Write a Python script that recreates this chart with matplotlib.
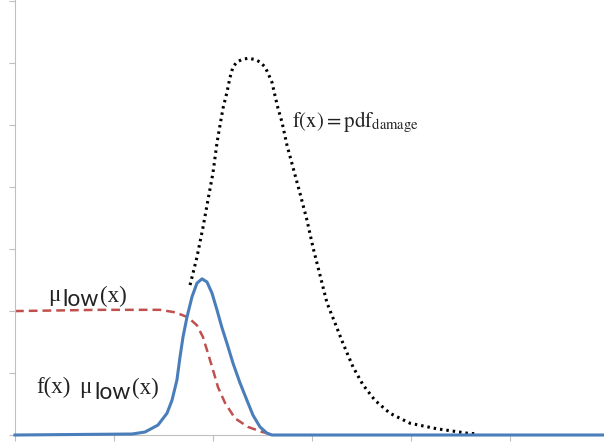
import matplotlib
matplotlib.use('Agg')
import matplotlib.pyplot as plt

plt.rcParams['font.family'] = ['Liberation Serif', 'DejaVu Serif']
plt.rcParams['mathtext.fontset'] = 'stix'

# pdf of damage (black dotted)
pdf_x = [1.768, 1.798, 1.838, 1.899, 1.949, 2.000, 2.040, 2.071, 2.101, 2.141, 2.172,
         2.202, 2.242, 2.293, 2.354, 2.424, 2.475, 2.525, 2.556, 2.596, 2.626, 2.657,
         2.697, 2.747, 2.808, 2.879, 2.949, 3.010, 3.081, 3.152, 3.232, 3.313, 3.414,
         3.515, 3.636, 3.788, 3.990, 4.263, 4.566, 4.667]
pdf_y = [2.42, 2.61, 2.87, 3.35, 3.79, 4.23, 4.71, 5.00, 5.27, 5.53, 5.77,
         5.94, 6.02, 6.06, 6.08, 6.06, 6.02, 5.94, 5.84, 5.69, 5.48, 5.27,
         5.05, 4.68, 4.32, 3.90, 3.47, 3.03, 2.58, 2.13, 1.81, 1.48, 1.10,
         0.81, 0.56, 0.35, 0.19, 0.10, 0.03, 0.02]

# membership mu_low (red dashed)
mu_x = [0.0, 0.859, 1.465, 1.616, 1.747, 1.838, 1.899, 1.949, 2.000, 2.051, 2.121,
        2.222, 2.354, 2.495, 2.576]
mu_y = [2.00, 2.02, 2.02, 1.98, 1.90, 1.77, 1.58, 1.32, 1.05, 0.77, 0.52,
        0.27, 0.13, 0.05, 0.016]

# product f(x)*mu_low(x) (blue solid)
prod_x = [0.0, 1.182, 1.313, 1.444, 1.535, 1.586, 1.636, 1.667, 1.697, 1.737, 1.788,
          1.838, 1.889, 1.939, 1.990, 2.040, 2.091, 2.141, 2.202, 2.273, 2.343,
          2.404, 2.475, 2.545, 2.596, 5.95]
prod_y = [0.0, 0.016, 0.048, 0.16, 0.35, 0.56, 0.89, 1.26, 1.58, 1.90, 2.23,
          2.45, 2.52, 2.47, 2.29, 2.02, 1.73, 1.48, 1.16, 0.84, 0.56,
          0.32, 0.13, 0.03, 0.0, 0.0]

fig = plt.figure(figsize=(6.04, 4.44), dpi=100)
ax = fig.add_axes([15 / 604, 9 / 444, 1 - 15 / 604, 435 / 444])

ax.plot(pdf_x, pdf_y, color='black', lw=2.2, linestyle=(0, (0.8, 1.3)))
ax.plot(mu_x, mu_y, color='#c0504d', lw=1.8, linestyle=(0, (3.5, 2)))
ax.plot(prod_x, prod_y, color='#4a7ebb', lw=2.2, clip_on=False, zorder=5,
        solid_joinstyle='round')

ax.set_xlim(0, 5.95)
ax.set_ylim(0, 7.02)
ax.set_xticks(range(0, 6))
ax.set_yticks(range(0, 8))
ax.set_xticklabels([])
ax.set_yticklabels([])
ax.tick_params(axis='both', direction='out', length=4, width=0.8, color='#bfbfbf')
for s in ['top', 'right']:
    ax.spines[s].set_visible(False)
for s in ['left', 'bottom']:
    ax.spines[s].set_color('#bfbfbf')
    ax.spines[s].set_linewidth(0.8)

tc = '#222222'
ax.text(2.80, 4.97, r'$\mathrm{f(x)} = \mathrm{pdf}_{\mathrm{damage}}$', fontsize=15, color=tc)


def mu_label(x, y, prefix):
    t = ax.text(x, y, prefix, fontsize=16.5, color=tc, va='bottom')
    t = ax.annotate('μ', xy=(1, 0), xycoords=t, xytext=(6 if prefix else 0, 0),
                    textcoords='offset points', fontsize=16.5, color=tc, va='bottom')
    t = ax.annotate('low', xy=(1, 0), xycoords=t, xytext=(2, -3),
                    textcoords='offset points', fontsize=16.5, color=tc,
                    family='Lato', va='bottom')
    ax.annotate('(x)', xy=(1, 0), xycoords=t, xytext=(1, 2.5),
                textcoords='offset points', fontsize=16.5, color=tc, va='bottom')


mu_label(0.33, 2.08, '')
mu_label(0.22, 0.59, 'f(x)')

fig.savefig('out.png', dpi=100)
